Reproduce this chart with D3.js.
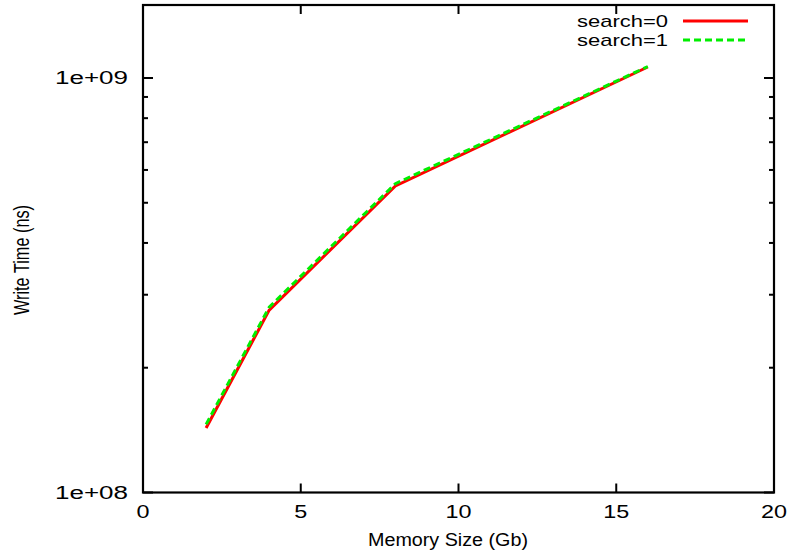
<!DOCTYPE html>
<html><head><meta charset="utf-8">
<script src="https://cdn.jsdelivr.net/npm/d3@7"></script>
<style>body{margin:0;background:#fff}</style>
</head><body>
<script>
const memSizes = [2, 4, 8, 16];
const search0 = [1.431e8, 2.755e8, 5.49e8, 1.063e9];
const search1 = [1.46e8, 2.80e8, 5.56e8, 1.066e9];
const seriesNames = ["search=0", "search=1"];
const xTicks = [0, 5, 10, 15, 20];
const yMajor = [1e8, 1e9];
const yMinor = [2e8, 3e8, 4e8, 5e8, 6e8, 7e8, 8e8, 9e8];

const W = 791, H = 550;
const L = 143, R = 774, T = 5, B = 492.5;
const FONT = "'Liberation Sans', Arial, Helvetica, sans-serif";

const svg = d3.select("body").append("svg").attr("width", W).attr("height", H);
const x = d3.scaleLinear().domain([0, 20]).range([L, R]);
const y = d3.scaleLog().domain([1e8, 1.5e9]).range([B, T]);

function hText(g, tx, ty, s, anchor, size, len) {
  const t = g.append("text").attr("x", tx).attr("y", ty).attr("text-anchor", anchor)
    .attr("font-family", FONT).attr("font-size", size).attr("fill", "#000").text(s);
  if (len) t.attr("textLength", len).attr("lengthAdjust", "spacingAndGlyphs");
  return t;
}

const axes = svg.append("g");
xTicks.forEach(v => {
  axes.append("line").attr("x1", x(v)).attr("x2", x(v)).attr("y1", B).attr("y2", B - 9).attr("stroke", "#000").attr("stroke-width", 2);
  axes.append("line").attr("x1", x(v)).attr("x2", x(v)).attr("y1", T).attr("y2", T + 9).attr("stroke", "#000").attr("stroke-width", 2);
  const s = String(v);
  hText(axes, x(v), 518, s, "middle", 18, s.length * 13);
});
yMajor.forEach(v => {
  axes.append("line").attr("x1", L).attr("x2", L + 10).attr("y1", y(v)).attr("y2", y(v)).attr("stroke", "#000").attr("stroke-width", 2);
  axes.append("line").attr("x1", R).attr("x2", R - 10).attr("y1", y(v)).attr("y2", y(v)).attr("stroke", "#000").attr("stroke-width", 2);
  hText(axes, 128, y(v) + 6.5, d3.format(".0e")(v).replace("e+", "e+0"), "end", 18, 73);
});
yMinor.forEach(v => {
  axes.append("line").attr("x1", L).attr("x2", L + 5).attr("y1", y(v)).attr("y2", y(v)).attr("stroke", "#000").attr("stroke-width", 2);
  axes.append("line").attr("x1", R).attr("x2", R - 5).attr("y1", y(v)).attr("y2", y(v)).attr("stroke", "#000").attr("stroke-width", 2);
});
axes.append("rect").attr("x", L).attr("y", T).attr("width", R - L).attr("height", B - T)
  .attr("fill", "none").attr("stroke", "#000").attr("stroke-width", 2.2);

// axis titles
hText(svg, 448, 546, "Memory Size (Gb)", "middle", 18, 160);
svg.append("text").attr("transform", `translate(29,260) rotate(-90)`)
  .attr("text-anchor", "middle").attr("font-family", FONT).attr("font-size", 22)
  .attr("textLength", 110).attr("lengthAdjust", "spacingAndGlyphs").text("Write Time (ns)");

// lines
const line = d3.line().x(d => x(d[0])).y(d => y(d[1]));
const styles = [
  { color: "#ff0000", dash: null, data: search0 },
  { color: "#00ee00", dash: "7,4", data: search1 }
];
styles.forEach(s => {
  svg.append("path").datum(memSizes.map((m, i) => [m, s.data[i]]))
    .attr("d", line).attr("fill", "none").attr("stroke", s.color)
    .attr("stroke-width", 3).attr("stroke-dasharray", s.dash);
});

// legend
seriesNames.forEach((n, i) => {
  const ly = 21 + i * 19;
  hText(svg, 668, ly + 6, n, "end", 17, 91);
  svg.append("line").attr("x1", 683).attr("x2", 748).attr("y1", ly).attr("y2", ly)
    .attr("stroke", styles[i].color).attr("stroke-width", 3).attr("stroke-dasharray", styles[i].dash);
});
</script>
</body></html>
